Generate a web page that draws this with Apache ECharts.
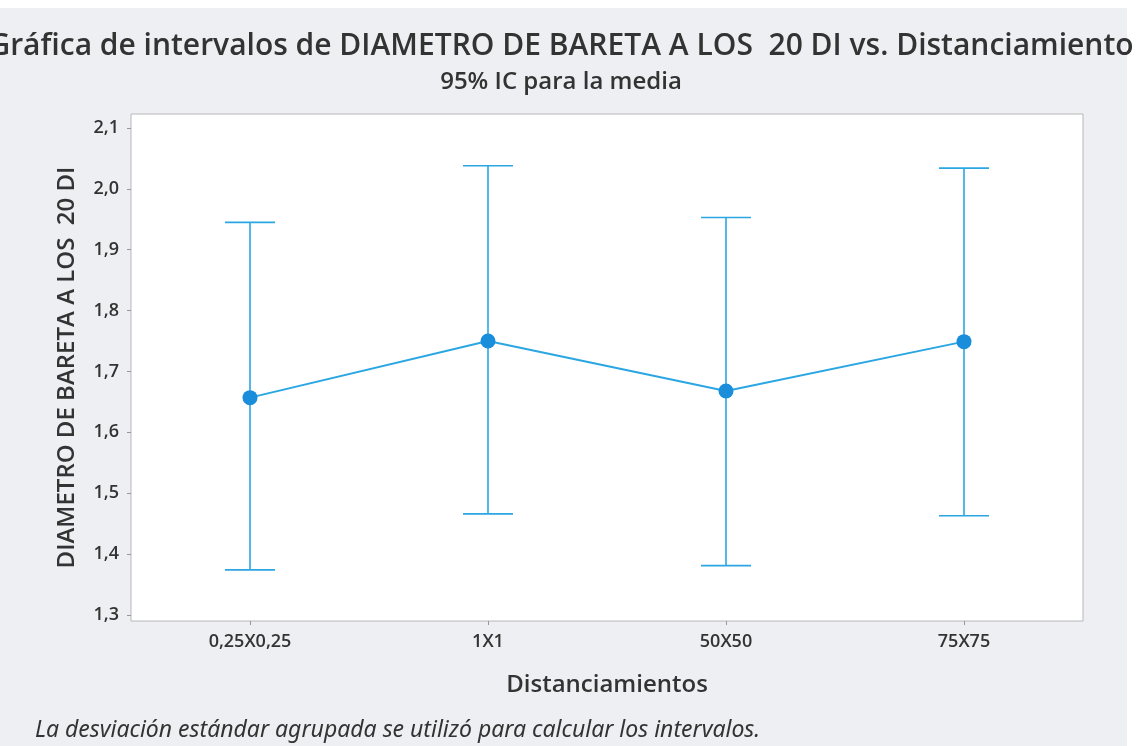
<!DOCTYPE html>
<html>
<head>
<meta charset="utf-8">
<script src="https://cdn.jsdelivr.net/npm/echarts@6/dist/echarts.min.js"></script>
<style>
  html, body { margin: 0; padding: 0; background: #fff; }
  #chart { width: 1144px; height: 746px; }
</style>
</head>
<body>
<div id="chart"></div>
<script>
const categories = ['0,25X0,25', '1X1', '50X50', '75X75']
const means = [1.657, 1.750, 1.668, 1.749]
const lower = [1.374, 1.466, 1.381, 1.463]
const upper = [1.945, 2.038, 1.953, 2.034]
const yTicks = [1.3, 1.4, 1.5, 1.6, 1.7, 1.8, 1.9, 2.0, 2.1]

const txt = '#333333'
const blue = '#2aa6e3'
const dot = '#1b8edb'

const chart = echarts.init(document.getElementById('chart'))

chart.setOption({
  animation: false,
  backgroundColor: '#ffffff',
  graphic: [
    { type: 'rect', z: -10, shape: { x: 0, y: 8, width: 1127, height: 738 }, style: { fill: '#eeeff3' } },
    {
      type: 'text', left: 35, top: 719,
      style: { text: 'La desviación estándar agrupada se utilizó para calcular los intervalos.', fill: txt, font: 'italic 23px "Noto Sans", sans-serif' }
    }
  ],
  title: {
    text: 'Gráfica de intervalos de DIAMETRO DE BARETA A LOS  20 DI vs. Distanciamiento',
    subtext: '95% IC para la media',
    left: 556, top: 26, textAlign: 'center', itemGap: 9,
    textStyle: { color: txt, fontSize: 30, fontWeight: 600, fontFamily: 'Open Sans' },
    subtextStyle: { color: txt, fontSize: 24, fontWeight: 600, fontFamily: 'Open Sans' }
  },
  grid: {
    left: 131, right: 61, top: 114, bottom: 125,
    show: true, backgroundColor: '#ffffff', borderColor: '#b8b8b8', borderWidth: 1
  },
  xAxis: {
    type: 'category', data: categories,
    name: 'Distanciamientos', nameLocation: 'middle', nameGap: 52,
    nameTextStyle: { color: txt, fontSize: 24, fontWeight: 600, fontFamily: 'Open Sans' },
    axisLine: { show: false },
    axisTick: { show: true, alignWithLabel: true, length: 4, lineStyle: { color: '#999' } },
    axisLabel: { color: txt, fontSize: 18, fontWeight: 600, fontFamily: 'Open Sans', margin: 12 }
  },
  yAxis: {
    type: 'value', min: 1.29, max: 2.123,
    name: 'DIAMETRO DE BARETA A LOS  20 DI', nameLocation: 'middle', nameGap: 52,
    nameTextStyle: { color: txt, fontSize: 24, fontWeight: 600, fontFamily: 'Open Sans' },
    axisLine: { show: false },
    splitLine: { show: false },
    axisTick: { show: true, length: 4, customValues: yTicks, lineStyle: { color: '#999' } },
    axisLabel: {
      color: txt, fontSize: 18, fontWeight: 600, fontFamily: 'Open Sans', margin: 12,
      customValues: yTicks,
      formatter: v => v.toFixed(1).replace('.', ',')
    }
  },
  series: [
    {
      type: 'custom',
      data: categories.map((c, i) => [i, lower[i], upper[i]]),
      renderItem: (params, api) => {
        const lo = api.coord([api.value(0), api.value(1)])
        const hi = api.coord([api.value(0), api.value(2)])
        const hw = 25
        const st = { stroke: blue, lineWidth: 1.6 }
        return {
          type: 'group',
          children: [
            { type: 'line', shape: { x1: lo[0], y1: lo[1], x2: hi[0], y2: hi[1] }, style: st },
            { type: 'line', shape: { x1: lo[0] - hw, y1: lo[1], x2: lo[0] + hw, y2: lo[1] }, style: st },
            { type: 'line', shape: { x1: hi[0] - hw, y1: hi[1], x2: hi[0] + hw, y2: hi[1] }, style: st }
          ]
        }
      },
      z: 1
    },
    {
      type: 'line', data: means,
      symbol: 'circle', symbolSize: 15,
      itemStyle: { color: dot },
      lineStyle: { color: blue, width: 2 },
      z: 2
    }
  ]
})
</script>
</body>
</html>
